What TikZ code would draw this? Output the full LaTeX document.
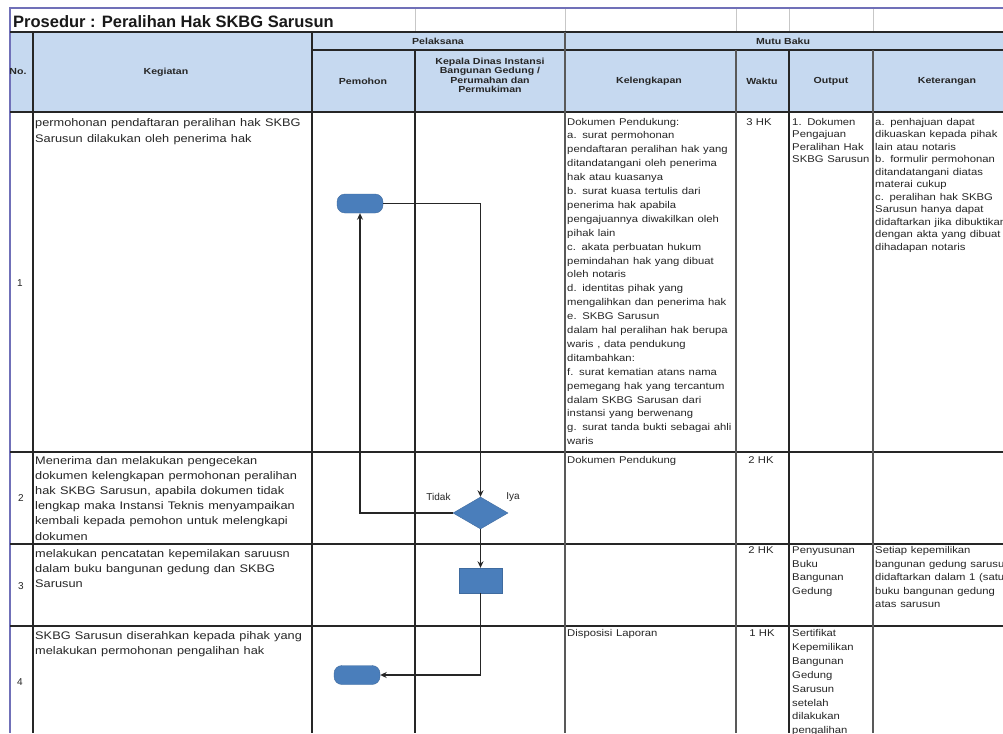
\documentclass[tikz,border=0pt]{standalone}
\usepackage{fontspec}
\setmainfont{Liberation Sans}
\usetikzlibrary{shapes.geometric,arrows.meta}
\definecolor{hdr}{HTML}{C6D9F0}
\definecolor{flowblue}{HTML}{4A7EBB}
\definecolor{framec}{HTML}{7070B8}
\begin{document}
\begin{tikzpicture}[x=1pt,y=-1pt,
  tline/.style={line width=1.3pt, draw=black!85},
  gline/.style={line width=1.2pt, draw=black!65},
  faint/.style={line width=0.6pt, draw=black!22},
  flow/.style={line width=1.1pt, draw=black!85, -{Stealth[length=6.5pt,width=6pt]}},
  term/.style={rectangle, rounded corners=8pt, minimum width=46pt, minimum height=19pt, inner sep=0pt, fill=flowblue, draw=flowblue!85!black, line width=0.4pt},
  decis/.style={diamond, minimum width=55pt, minimum height=32pt, inner sep=0pt, fill=flowblue, draw=flowblue!85!black, line width=0.4pt},
  proc/.style={rectangle, minimum width=43pt, minimum height=25pt, inner sep=0pt, fill=flowblue, draw=flowblue!85!black, line width=0.4pt},
  hd/.style={inner sep=0pt, align=center, xscale=1.2, transform shape, text=black!85, font=\bfseries\fontsize{8.8}{9.3}\selectfont},
  kg/.style={anchor=base west, inner sep=0pt, align=left, text width=300pt, xscale=1.16, transform shape, text=black!85, font=\fontsize{11}{15.2}\selectfont},
  bd/.style={anchor=base west, inner sep=0pt, align=left, text width=200pt, xscale=1.15, transform shape, text=black!85, font=\fontsize{9.8}{13.9}\selectfont},
  bdo/.style={bd, font=\fontsize{9.8}{12.5}\selectfont},
  bdc/.style={anchor=base, inner sep=0pt, xscale=1.15, transform shape, text=black!85, font=\fontsize{9.8}{12}\selectfont},
  lbl/.style={inner sep=0pt, text=black!85, font=\fontsize{10}{12}\selectfont}
]
\useasboundingbox (0,0) rectangle (1003,733);
\fill[white] (0,0) rectangle (1003,733);
% header fill
\fill[hdr] (10,32) rectangle (1003,112);
% faint grid in title row
\foreach \gx in {415,565,736,789,873} \draw[faint] (\gx,8) -- (\gx,32);
% frame
\draw[line width=2pt, draw=framec] (10,8) -- (1003,8);
\draw[line width=2.6pt, draw=framec] (10,7) -- (10,733);
% table lines
\draw[tline] (10,32) -- (1003,32);
\draw[tline] (312,50) -- (1003,50);
\draw[tline] (10,112) -- (1003,112);
\draw[tline] (10,452) -- (1003,452);
\draw[tline] (10,544) -- (1003,544);
\draw[tline] (10,626) -- (1003,626);
\draw[tline] (33,32) -- (33,733);
\draw[tline] (312,32) -- (312,733);
\draw[tline] (415,50) -- (415,733);
\draw[gline] (565,32) -- (565,733);
\draw[gline] (736,50) -- (736,733);
\draw[tline] (789,50) -- (789,733);
\draw[gline] (873,50) -- (873,733);

% title
\node[anchor=base west, inner sep=0pt, text=black!90, font=\bfseries\fontsize{16.5}{18}\selectfont] (title) at (13,28) {Prosedur : Peralihan Hak SKBG Sarusun};

% headers
\node[hd] (hpel) at (438,41) {Pelaksana};
\node[hd] (hmutu) at (783,41) {Mutu Baku};
\node[hd] (hno) at (18,72) {No.};
\node[hd] (hkeg) at (166,72) {Kegiatan};
\node[hd] (hpem) at (363,81) {Pemohon};
\node[hd] (hkep) at (490,75.5) {Kepala Dinas Instansi\\Bangunan Gedung /\\Perumahan dan\\Permukiman};
\node[hd] (hkel) at (649,81) {Kelengkapan};
\node[hd] (hwak) at (762,81) {Waktu};
\node[hd] (hout) at (831,81) {Output};
\node[hd] (hket) at (947,81) {Keterangan};

% row numbers
\node[lbl] (n1) at (20,283) {1};
\node[lbl] (n2) at (21,498) {2};
\node[lbl] (n3) at (21,586) {3};
\node[lbl] (n4) at (20,682) {4};

% kegiatan
\node[kg] (k1) at (35,127) {permohonan pendaftaran peralihan hak SKBG\\Sarusun dilakukan oleh penerima hak};
\node[kg] (k2) at (35,464) {Menerima dan melakukan pengecekan\\dokumen kelengkapan permohonan peralihan\\hak SKBG Sarusun, apabila dokumen tidak\\lengkap maka Instansi Teknis menyampaikan\\kembali kepada pemohon  untuk melengkapi\\dokumen};
\node[kg] (k3) at (35,557) {melakukan pencatatan kepemilakan saruusn\\dalam buku bangunan gedung dan SKBG\\Sarusun};
\node[kg] (k4) at (35,639) {SKBG Sarusun diserahkan kepada pihak yang\\melakukan permohonan pengalihan hak};

% kelengkapan
\node[bd] (l1) at (567,125) {Dokumen Pendukung:\\a. surat permohonan\\pendaftaran peralihan hak yang\\ditandatangani oleh penerima\\hak atau kuasanya\\b. surat kuasa tertulis dari\\penerima hak apabila\\pengajuannya diwakilkan oleh\\pihak lain\\c. akata perbuatan hukum\\pemindahan hak yang dibuat\\oleh notaris\\d. identitas pihak yang\\mengalihkan dan penerima hak\\e. SKBG Sarusun\\dalam hal peralihan hak berupa\\waris , data pendukung\\ditambahkan:\\f. surat kematian atans nama\\pemegang hak yang tercantum\\dalam SKBG Sarusan dari\\instansi yang berwenang\\g. surat tanda bukti sebagai ahli\\waris};
\node[bd] (l2) at (567,463.5) {Dokumen Pendukung};
\node[bd] (l4) at (567,636.5) {Disposisi Laporan};

% waktu
\node[bdc] (w1) at (759,125) {3 HK};
\node[bdc] (w2) at (761,463.5) {2 HK};
\node[bdc] (w3) at (761,553.5) {2 HK};
\node[bdc] (w4) at (762,636.5) {1 HK};

% output
\node[bdo] (o1) at (792,125) {1. Dokumen\\Pengajuan\\Peralihan Hak\\SKBG Sarusun};
\node[bd, font=\fontsize{9.8}{13.7}\selectfont] (o3) at (792,553.5) {Penyusunan\\Buku\\Bangunan\\Gedung};
\node[bd] (o4) at (792,636.5) {Sertifikat\\Kepemilikan\\Bangunan\\Gedung\\Sarusun\\setelah\\dilakukan\\pengalihan};

% keterangan
\node[bdo] (e1) at (875,125) {a. penhajuan dapat\\dikuaskan kepada pihak\\lain atau notaris\\b. formulir permohonan\\ditandatangani diatas\\materai cukup\\c. peralihan hak SKBG\\Sarusun hanya dapat\\didaftarkan jika dibuktikan\\dengan akta yang dibuat\\dihadapan notaris};
\node[bd, font=\fontsize{9.8}{13.6}\selectfont] (e3) at (875,553.5) {Setiap kepemilikan\\bangunan gedung sarusun\\didaftarkan dalam 1 (satu)\\buku bangunan gedung\\atas sarusun};

% flow shapes
\node[term] (t1) at (360,203.5) {};
\node[decis] (d1) at (480.5,513) {};
\node[proc] (r1) at (480.5,580.5) {};
\node[term] (t2) at (357,675) {};

% connectors
\draw[flow] (t1.east) -| (d1.north);
\draw[flow] (d1.west) -| (t1.south);
\draw[flow] (d1.south) -- (r1.north);
\draw[flow] (r1.south) |- (t2.east);

% branch labels
\node[lbl] (ltidak) at (438.5,497) {Tidak};
\node[lbl] (liya) at (513,497) {Iya};
\end{tikzpicture}
\end{document}
